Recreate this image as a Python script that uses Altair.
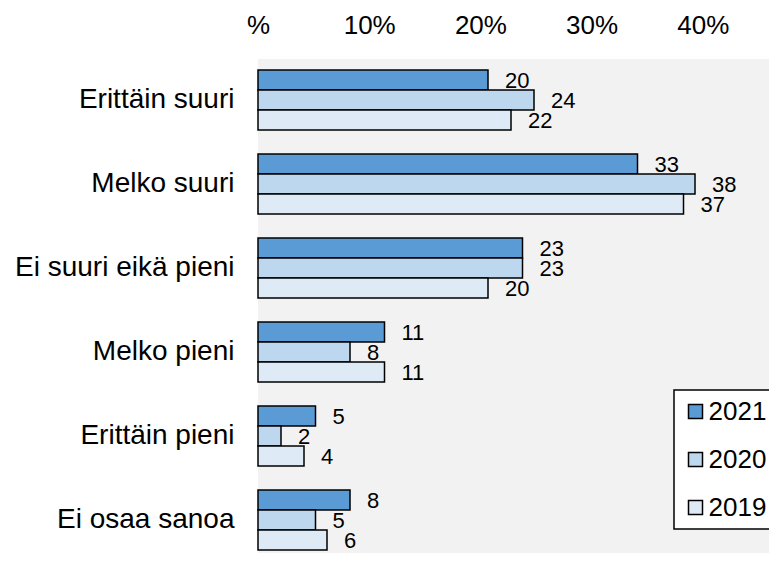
import altair as alt
import pandas as pd

categories = ["Erittäin suuri", "Melko suuri", "Ei suuri eikä pieni",
              "Melko pieni", "Erittäin pieni", "Ei osaa sanoa"]
years = ["2021", "2020", "2019"]
v2021 = [20, 33, 23, 11, 5, 8]
v2020 = [24, 38, 23, 8, 2, 5]
v2019 = [22, 37, 20, 11, 4, 6]
tick_values = [0, 10, 20, 30, 40]
tick_labels = ["%", "10%", "20%", "30%", "40%"]
colors = ["#5B9BD5", "#BDD7EE", "#DEEBF7"]

rows = []
for yr, vals in zip(years, [v2021, v2020, v2019]):
    for c, v in zip(categories, vals):
        rows.append({"cat": c, "year": yr, "value": v})
df = pd.DataFrame(rows)

FONT = "Liberation Sans"

label_expr = " : ".join(
    f"datum.value == {v} ? '{l}'" for v, l in zip(tick_values, tick_labels)
) + " : ''"

ycat = alt.Y(
    "cat:N", sort=categories,
    scale=alt.Scale(paddingInner=0.2857, paddingOuter=0.0833, align=0.786),
    axis=alt.Axis(title=None, labelFontSize=28, labelPadding=24, ticks=False,
                  domain=False, labelColor="black", labelFont=FONT, labelLimit=300),
)
yoff = alt.YOffset("year:N", sort=years,
                   scale=alt.Scale(paddingInner=0, paddingOuter=0))
xbar = alt.X("value:Q", scale=alt.Scale(domain=[0, 45.13], nice=False, zero=True),
             axis=None)

bars = alt.Chart(df).mark_bar(stroke="black", strokeWidth=1.5).encode(
    x=xbar, y=ycat, yOffset=yoff,
    color=alt.Color(
        "year:N", sort=years,
        scale=alt.Scale(domain=years, range=colors),
        legend=alt.Legend(
            title=None, orient="none", legendX=416, legendY=331,
            direction="vertical", fillColor="white", strokeColor="black",
            padding=8.5, symbolType="square", symbolSize=196,
            symbolStrokeColor="black", symbolStrokeWidth=1.5, symbolOpacity=1,
            labelFontSize=26, labelFont=FONT, labelColor="black",
            rowPadding=22, symbolOffset=0, labelOffset=0,
        ),
    ),
)

text = alt.Chart(df).mark_text(
    align="left", baseline="middle", dx=17, dy=1, fontSize=22, font=FONT,
    color="black",
).encode(x=xbar, y=ycat, yOffset=yoff, text="value:Q")

axdf = pd.DataFrame({"t": tick_values})
axis_layer = alt.Chart(axdf).mark_point(opacity=0).encode(
    x=alt.X("t:Q", scale=alt.Scale(domain=[0, 46.67], nice=False),
            axis=alt.Axis(orient="top", values=tick_values, labelExpr=label_expr,
                          title=None, grid=False, domain=False, ticks=False,
                          tickSize=0, labelFontSize=26, labelFont=FONT,
                          labelColor="black", labelPadding=26,
                          labelBaseline="alphabetic", labelFlush=False,
                          labelOverlap=False)),
)

chart = alt.layer(bars, text, axis_layer).resolve_scale(x="independent").properties(
    width=519, height=494,
    autosize=alt.AutoSizeParams(type="none"),
    padding={"left": 250, "top": 51, "right": -8, "bottom": 0},
).configure_view(fill="#F2F2F2", strokeWidth=0).configure_legend(strokeWidth=1.5)

chart.save("out.html", embed_options={"renderer": "svg", "actions": False})
